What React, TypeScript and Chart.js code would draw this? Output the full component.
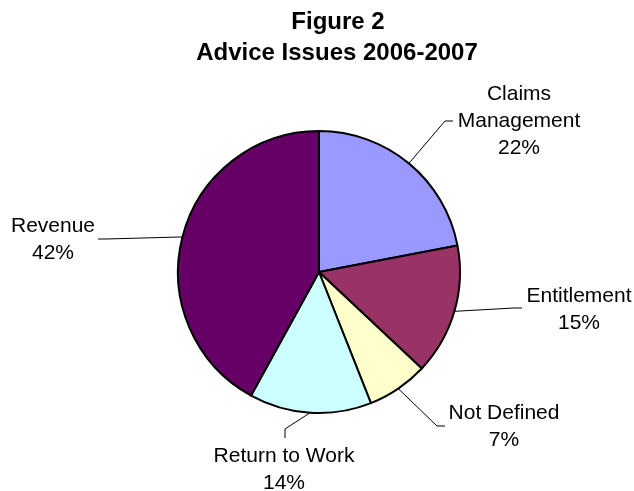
import React, { useEffect, useRef } from "react";
import { Chart, registerables } from "chart.js";

Chart.register(...registerables);

const titleLines = ["Figure 2", "Advice Issues 2006-2007"];
const categories = ["Claims Management", "Entitlement", "Not Defined", "Return to Work", "Revenue"];
const values = [22, 15, 7, 14, 42];
const colors = ["#9999FF", "#993366", "#FFFFCC", "#CCFFFF", "#660066"];
const labelLines = [["Claims", "Management"], ["Entitlement"], ["Not Defined"], ["Return to Work"], ["Revenue"]];

// label layout: text centre x, first baseline y, leader elbow & end points
const labelLayout = [
  { x: 519, y: 100, elbow: [445, 121], end: [453, 121] },
  { x: 579, y: 302, elbow: [514, 308], end: [522, 308] },
  { x: 504, y: 419, elbow: [437, 426], end: [445, 426] },
  { x: 284, y: 462, elbow: [285, 429], end: [285, 438] },
  { x: 53, y: 232, elbow: [106, 239], end: [98, 239] },
];

const FONT = '"Liberation Sans", Arial, sans-serif';

const labelPlugin = {
  id: "outLabels",
  afterDraw(chart: any) {
    const ctx = chart.ctx;
    const meta = chart.getDatasetMeta(0);
    const total = values.reduce((a, b) => a + b, 0);
    ctx.save();
    // title
    ctx.fillStyle = "#000";
    ctx.textAlign = "center";
    ctx.textBaseline = "alphabetic";
    ctx.font = `bold 24px ${FONT}`;
    ctx.fillText(titleLines[0], 338, 29);
    ctx.fillText(titleLines[1], 337, 60);

    meta.data.forEach((arc: any, i: number) => {
      const p = arc.getProps(["x", "y", "startAngle", "endAngle", "outerRadius"], true);
      const mid = (p.startAngle + p.endAngle) / 2;
      const sx = p.x + Math.cos(mid) * p.outerRadius;
      const sy = p.y + Math.sin(mid) * p.outerRadius;
      const L = labelLayout[i];
      ctx.strokeStyle = "#000";
      ctx.lineWidth = 1;
      ctx.beginPath();
      ctx.moveTo(sx, sy);
      ctx.lineTo(L.elbow[0], L.elbow[1]);
      ctx.lineTo(L.end[0], L.end[1]);
      ctx.stroke();

      ctx.font = `21px ${FONT}`;
      ctx.fillStyle = "#000";
      ctx.textAlign = "center";
      const lines = [...labelLines[i], Math.round((values[i] / total) * 100) + "%"];
      lines.forEach((t, k) => ctx.fillText(t, L.x, L.y + k * 27));
    });
    ctx.restore();
  },
};

export default function App() {
  const ref = useRef<HTMLCanvasElement | null>(null);
  useEffect(() => {
    if (!ref.current) return;
    const chart = new Chart(ref.current, {
      type: "pie",
      data: {
        labels: categories,
        datasets: [
          {
            data: values,
            backgroundColor: colors,
            borderColor: "#000000",
            borderWidth: 2,
            hoverOffset: 0,
          },
        ],
      },
      options: {
        responsive: false,
        animation: false,
        events: [],
        layout: { padding: { left: 177, top: 130, right: 173, bottom: 77 } },
        plugins: {
          legend: { display: false },
          title: { display: false },
          tooltip: { enabled: false },
        },
      },
      plugins: [labelPlugin],
    });
    return () => chart.destroy();
  }, []);
  return (
    <div style={{ position: "fixed", left: 0, top: 0, width: 634, height: 491, background: "#fff" }}>
      <canvas ref={ref} width={634} height={491} style={{ width: 634, height: 491 }} />
    </div>
  );
}
